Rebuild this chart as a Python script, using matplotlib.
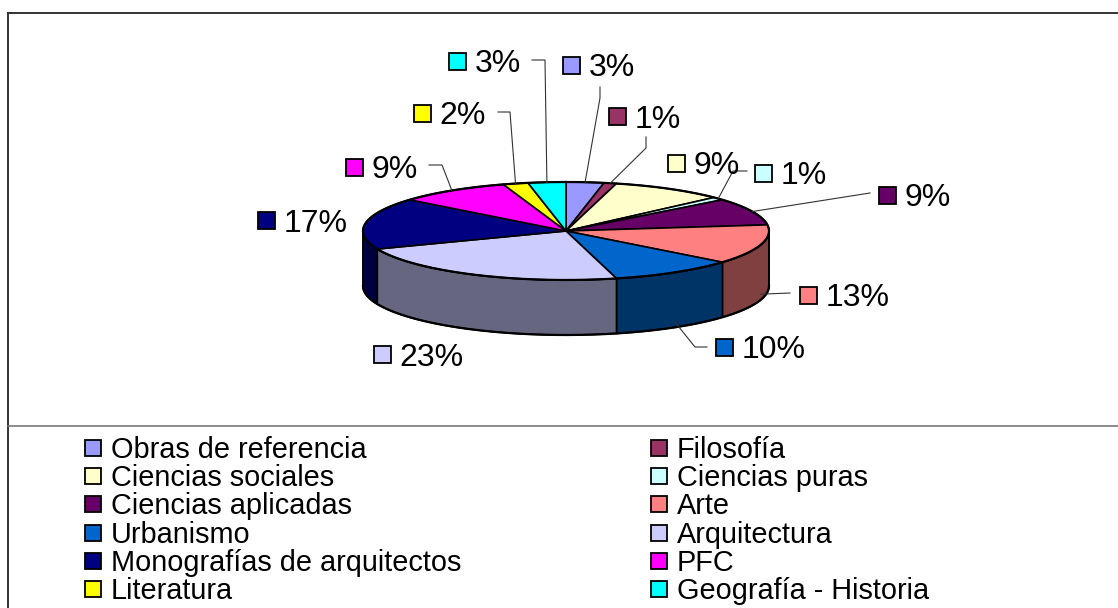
import numpy as np
import matplotlib.pyplot as plt
from matplotlib.patches import Polygon, Rectangle
from matplotlib.colors import to_rgb

plt.rcParams['font.family'] = ['Liberation Sans', 'DejaVu Sans']

# fondos por materia (porcentaje)
categories = ['Obras de referencia', 'Filosofía', 'Ciencias sociales', 'Ciencias puras',
              'Ciencias aplicadas', 'Arte', 'Urbanismo', 'Arquitectura',
              'Monografías de arquitectos', 'PFC', 'Literatura', 'Geografía - Historia']
values = [3, 1, 9, 1, 9, 13, 10, 23, 17, 9, 2, 3]
colors = ['#9999FF', '#993366', '#FFFFCC', '#CCFFFF', '#660066', '#FF8080',
          '#0066CC', '#CCCCFF', '#000080', '#FF00FF', '#FFFF00', '#00FFFF']

# pie geometry (pixels)
cx, cy, rx, ry, depth = 566, 231, 203, 49, 55

# percentage label boxes: centre of the key square
label_pos = [(571, 65), (617, 116), (676, 163), (763, 173), (887, 195), (808, 295),
             (724, 347), (382, 354), (266, 220), (354, 167), (422, 113), (457, 61)]
# leader line points before reaching the slice
leaders = {0: [(600, 87), (600, 98)], 1: [(646, 137), (646, 148)],
           3: [(747, 171), (733, 171)], 4: [(870, 193)], 5: [(790, 293)],
           6: [(707, 347), (695, 347)], 9: [(429, 165), (442, 165)],
           10: [(498, 112), (510, 112)], 11: [(532, 60), (545, 60)]}

W, H = 1118, 608
fig = plt.figure(figsize=(W / 100, H / 100), dpi=100)
ax = fig.add_axes([0, 0, 1, 1])
ax.set_xlim(0, W)
ax.set_ylim(H, 0)
ax.axis('off')


def ell(theta, dz=0.0):
    t = np.radians(theta)
    return cx + rx * np.sin(t), cy - ry * np.cos(t) + dz


def darker(c):
    return tuple(v * 0.5 for v in to_rgb(c))


bounds = np.concatenate([[0], np.cumsum(values)]) / np.sum(values) * 360.0

# side walls (front half only)
for i, c in enumerate(colors):
    a, b = max(bounds[i], 90), min(bounds[i + 1], 270)
    if a >= b:
        continue
    th = np.linspace(a, b, 60)
    tx, ty = ell(th)
    bx, by = ell(th[::-1], depth)
    pts = np.column_stack([np.r_[tx, bx], np.r_[ty, by]])
    ax.add_patch(Polygon(pts, closed=True, fc=darker(c), ec='black', lw=1.2))

# top faces
for i, c in enumerate(colors):
    th = np.linspace(bounds[i], bounds[i + 1], 80)
    tx, ty = ell(th)
    pts = np.column_stack([np.r_[cx, tx], np.r_[cy, ty]])
    ax.add_patch(Polygon(pts, closed=True, fc=c, ec='black', lw=1.2, joinstyle='round'))

# outline of the disc
th = np.linspace(0, 360, 400)
ax.plot(*ell(th), color='black', lw=1.6)
th = np.linspace(90, 270, 200)
ax.plot(*ell(th, depth), color='black', lw=1.6)
for t in (90, 270):
    x0, y0 = ell(t)
    ax.plot([x0, x0], [y0, y0 + depth], color='black', lw=1.2)

# percentage labels with leader lines
sq = 17
for i, v in enumerate(values):
    x, y = label_pos[i]
    ax.add_patch(Rectangle((x - sq / 2, y - sq / 2), sq, sq, fc=colors[i], ec='black', lw=1.3))
    ax.text(x + sq / 2 + 9, y + 11.5, f'{v}%', fontsize=23, va='baseline', ha='left')
    if i in leaders:
        mid = (bounds[i] + bounds[i + 1]) / 2
        front = np.cos(np.radians(mid)) < 0
        px, py = ell(mid, depth * 0.9 if front else 0)
        pts = leaders[i] + [(px, py)]
        ax.plot([p[0] for p in pts], [p[1] for p in pts], color='#333333', lw=0.8)

# chart frame and legend separator
ax.plot([8, W], [13, 13], color='#333333', lw=1.4, clip_on=False)
ax.plot([8, 8], [13, H], color='#333333', lw=1.4, clip_on=False)
ax.plot([8, W], [426, 426], color='#777777', lw=1.2)

# legend, two columns filled row by row
col_x = [93, 659]
row_y0, row_dy = 448, 28.2
lsq = 16
for i, name in enumerate(categories):
    x = col_x[i % 2]
    y = row_y0 + row_dy * (i // 2)
    ax.add_patch(Rectangle((x - lsq / 2, y - lsq / 2), lsq, lsq, fc=colors[i], ec='black', lw=1.3))
    ax.text(x + lsq / 2 + 10, y + 10, name, fontsize=20.8, va='baseline', ha='left')

fig.savefig('out.png', dpi=100)
